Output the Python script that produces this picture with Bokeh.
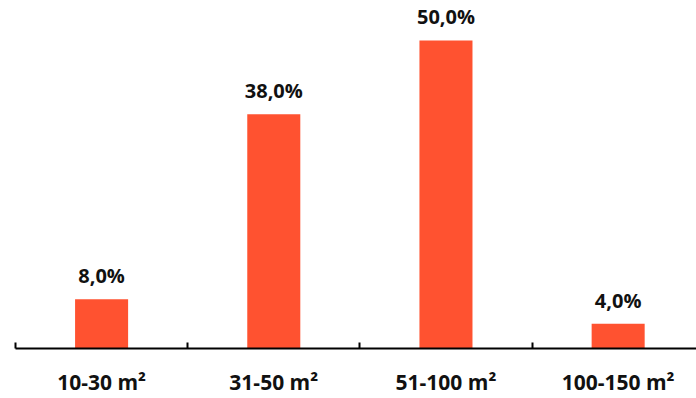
from bokeh.plotting import figure
from bokeh.models import ColumnDataSource, LabelSet, FixedTicker, Range1d
from bokeh.core.properties import value
from bokeh.embed import file_html
from bokeh.resources import INLINE

categories = ["10-30 m²", "31-50 m²", "51-100 m²", "100-150 m²"]
values = [8.0, 38.0, 50.0, 4.0]

xpos = [i + 0.5 for i in range(len(categories))]
labels = [f"{v:.1f}".replace(".", ",") + "%" for v in values]

src = ColumnDataSource(dict(x=xpos, top=values, label=labels))

p = figure(width=696, height=398, output_backend="svg", toolbar_location=None,
           x_range=Range1d(0, 3.955), y_range=Range1d(0, 55.18),
           y_axis_location=None, min_border_left=15, min_border_right=0,
           min_border_top=8, min_border_bottom=0)
p.outline_line_color = None
p.xgrid.visible = False
p.ygrid.visible = False

p.vbar(x="x", top="top", width=0.308, bottom=0, source=src,
       fill_color="#FF5230", line_color=None)

lab = LabelSet(x="x", y="top", text="label", source=src, text_align="center",
               text_baseline="alphabetic", y_offset=16,
               text_font=value("Open Sans"), text_font_style="bold",
               text_font_size="20px", text_color="#111111")
p.add_layout(lab)

ax = p.xaxis[0]
ax.ticker = FixedTicker(ticks=xpos, minor_ticks=[0, 1, 2, 3, 4])
ax.major_label_overrides = {x: c for x, c in zip(xpos, categories)}
ax.major_tick_in = 0
ax.major_tick_out = 0
ax.minor_tick_in = 6
ax.minor_tick_out = 0
ax.minor_tick_line_width = 2
ax.minor_tick_line_color = "#000000"
ax.axis_line_width = 2
ax.axis_line_color = "#000000"
ax.major_label_standoff = 19
ax.major_label_text_font = "Open Sans"
ax.major_label_text_font_style = "bold"
ax.major_label_text_font_size = "21px"
ax.major_label_text_color = "#111111"

open("out.html", "w").write(file_html(p, INLINE))
